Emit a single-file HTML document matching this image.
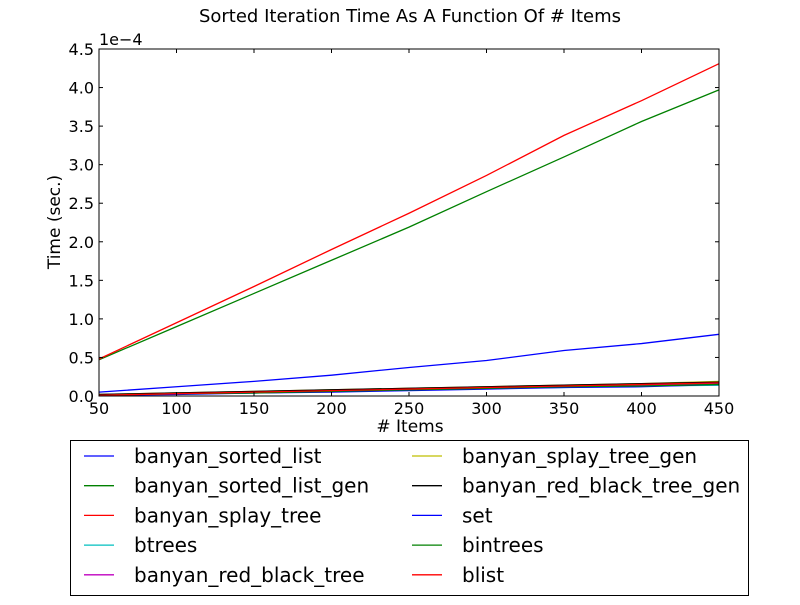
<!DOCTYPE html>
<html><head><meta charset="utf-8"><style>body{margin:0;background:#fff}svg{font-family:"DejaVu Sans","Liberation Sans",sans-serif}</style></head>
<body>
<svg id="c" width="800" height="600"></svg>
<script>
const xVals=[50,100,150,200,250,300,350,400,450];
const sBSL=[0.05,0.12,0.19,0.27,0.37,0.46,0.59,0.68,0.80];
const sBSLG=[0.47,0.90,1.33,1.76,2.19,2.65,3.10,3.56,3.97];
const sSplay=[0.48,0.95,1.42,1.90,2.37,2.86,3.38,3.83,4.31];
const sBtrees=[0.01,0.03,0.04,0.06,0.08,0.10,0.11,0.13,0.14];
const sRB=[0.01,0.03,0.05,0.07,0.09,0.11,0.12,0.14,0.16];
const sSplayGen=[0.02,0.04,0.06,0.08,0.10,0.12,0.14,0.16,0.19];
const sRBGen=[0.02,0.04,0.06,0.08,0.10,0.12,0.14,0.16,0.18];
const sSet=[0.01,0.02,0.04,0.05,0.07,0.09,0.11,0.12,0.15];
const sBintrees=[0.01,0.03,0.04,0.06,0.08,0.10,0.12,0.13,0.15];
const sBlist=[0.01,0.03,0.05,0.07,0.09,0.11,0.13,0.15,0.17];
const seriesNames=["banyan_sorted_list","banyan_sorted_list_gen","banyan_splay_tree","btrees","banyan_red_black_tree","banyan_splay_tree_gen","banyan_red_black_tree_gen","set","bintrees","blist"];
const seriesColors=["#0000ff","#008000","#ff0000","#00bfbf","#bf00bf","#bfbf00","#000000","#0000ff","#008000","#ff0000"];
const xTicks=[50,100,150,200,250,300,350,400,450];
const yTicks=[0,0.5,1.0,1.5,2.0,2.5,3.0,3.5,4.0,4.5];
const allSeries=[sBSL,sBSLG,sSplay,sBtrees,sRB,sSplayGen,sRBGen,sSet,sBintrees,sBlist];
const L=99,R=719,T=49,B=396;
const sx=v=>L+(v-50)/400*(R-L), sy=v=>B-v/4.5*(B-T);
const svg=document.getElementById('c'),NS='http://www.w3.org/2000/svg';
function mk(t,a,p){const e=document.createElementNS(NS,t);for(const k in a)e.setAttribute(k,a[k]);(p||svg).appendChild(e);return e;}
let t=mk('text',{x:410,y:22,'text-anchor':'middle','font-size':18});t.textContent='Sorted Iteration Time As A Function Of # Items';


allSeries.forEach((s,i)=>{const p=mk('polyline',{points:s.map((v,j)=>sx(xVals[j])+','+sy(v)).join(' '),fill:'none',stroke:seriesColors[i],'stroke-width':1.3});

});
let fr=mk('rect',{x:L,y:T,width:R-L,height:B-T,fill:'none',stroke:'#000','stroke-width':1});


xTicks.forEach(v=>{const x=sx(v);mk('line',{x1:x,x2:x,y1:B,y2:B-4,stroke:'#000'});mk('line',{x1:x,x2:x,y1:T,y2:T+4,stroke:'#000'});
const l=mk('text',{x:x,y:B+18,'text-anchor':'middle','font-size':16});l.textContent=v;

});
yTicks.forEach(v=>{const y=sy(v);mk('line',{x1:L,x2:L+4,y1:y,y2:y,stroke:'#000'});mk('line',{x1:R,x2:R-4,y1:y,y2:y,stroke:'#000'});
const l=mk('text',{x:L-5,y:y+6,'text-anchor':'end','font-size':16});l.textContent=v.toFixed(1);

});
t=mk('text',{x:L,y:T-4,'font-size':16});t.textContent='1e\u22124';


t=mk('text',{x:410,y:432,'text-anchor':'middle','font-size':17});t.textContent='# Items';


t=mk('text',{x:60,y:222,'text-anchor':'middle','font-size':17,transform:'rotate(-90 60 222)'});t.textContent='Time (sec.)';


const lg=mk('g',{});


mk('rect',{x:70.5,y:440.5,width:678,height:155,fill:'#fff',stroke:'#000'},lg);
seriesNames.forEach((n,i)=>{const col=i<5?0:1,row=i%5;const x0=col?412:84,y=456+row*29.7;
const g=mk('g',{},lg);


mk('line',{x1:x0,x2:x0+30,y1:y,y2:y,stroke:seriesColors[i],'stroke-width':1.3},g);
const tx=mk('text',{x:x0+50,y:y+7,'font-size':20},g);tx.textContent=n;});
</script>
</body></html>
